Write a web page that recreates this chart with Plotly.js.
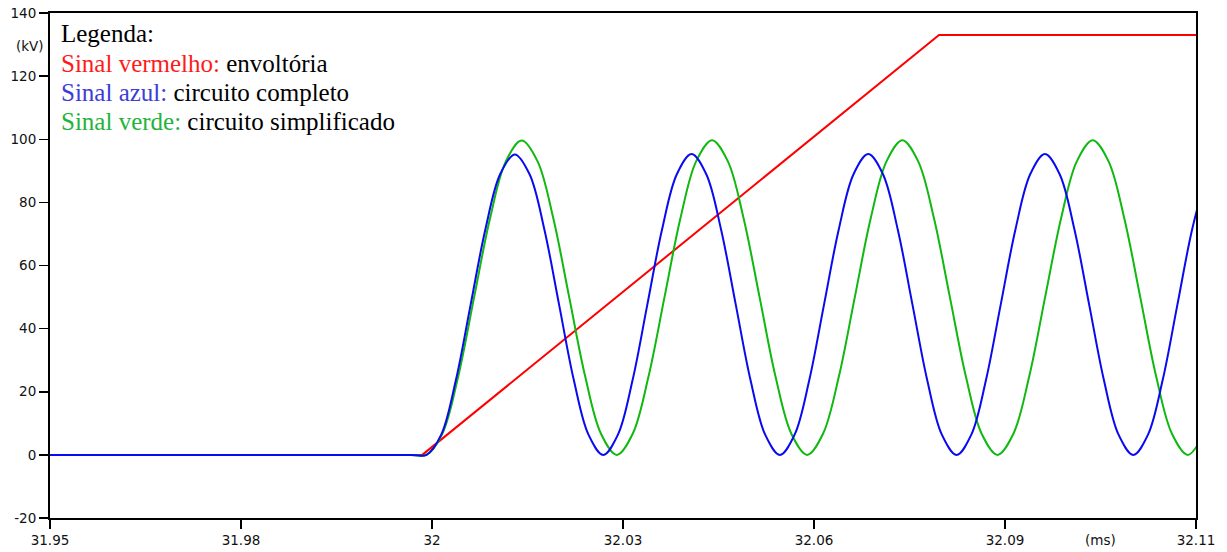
<!DOCTYPE html>
<html>
<head>
<meta charset="utf-8">
<script src="https://cdn.plot.ly/plotly-3.0.1.min.js"></script>
<style>html,body{margin:0;padding:0;background:#fff;}#chart{width:1227px;height:552px;}</style>
</head>
<body>
<div id="chart"></div>
<script>
// Red: envelope (kV vs ms)
const xRed = [31.95, 32.0036, 32.078, 32.115];
const yRed = [0, 0, 133, 133];

// Blue: full circuit
const xBlue = [31.95, 32.00209, 32.00421, 32.00633, 32.00845, 32.01057, 32.01269, 32.01481, 32.01693, 32.01905, 32.02117, 32.02329, 32.02541, 32.02753,
  32.02965, 32.03177, 32.03389, 32.03601, 32.03813, 32.04025, 32.04237, 32.04449, 32.04661, 32.04873, 32.05085, 32.05297,
  32.05509, 32.05721, 32.05933, 32.06145, 32.06357, 32.06569, 32.06781, 32.06993, 32.07205, 32.07417, 32.07629, 32.07841,
  32.08053, 32.08265, 32.08477, 32.08689, 32.08901, 32.09113, 32.09325, 32.09537, 32.09749, 32.09961, 32.10173, 32.10385,
  32.10597, 32.10809, 32.11021, 32.11233, 32.11445, 32.11657];
const yBlue = [0, 0, 0, 6.4, 23.8, 47.7, 71.5, 88.9, 95.2, 88.9, 71.5, 47.7, 23.8, 6.4,
  0, 6.4, 23.8, 47.7, 71.5, 88.9, 95.3, 88.9, 71.5, 47.7, 23.8, 6.4,
  0, 6.4, 23.8, 47.7, 71.5, 88.9, 95.3, 88.9, 71.5, 47.7, 23.8, 6.4,
  0, 6.4, 23.8, 47.7, 71.5, 88.9, 95.3, 88.9, 71.5, 47.7, 23.8, 6.4,
  0, 6.4, 23.8, 47.7, 71.5, 88.9];

// Green: simplified circuit
const xGreen = [31.95, 32.00193, 32.00421, 32.00649, 32.00878, 32.01106, 32.01334, 32.01563, 32.01791, 32.02020, 32.02248, 32.02476, 32.02705, 32.02933,
  32.03161, 32.03390, 32.03618, 32.03847, 32.04075, 32.04303, 32.04532, 32.04760, 32.04988, 32.05217, 32.05445, 32.05674,
  32.05902, 32.06130, 32.06359, 32.06587, 32.06815, 32.07044, 32.07272, 32.07500, 32.07729, 32.07957, 32.08186, 32.08414,
  32.08642, 32.08871, 32.09099, 32.09327, 32.09556, 32.09784, 32.10013, 32.10241, 32.10469, 32.10698, 32.10926, 32.11154,
  32.11383, 32.11611];
const yGreen = [0, 0, 0, 6.7, 24.9, 49.9, 74.8, 93.0, 99.6, 93.0, 74.8, 49.9, 24.9, 6.7,
  0, 6.7, 24.9, 49.9, 74.8, 93.0, 99.7, 93.0, 74.8, 49.9, 24.9, 6.7,
  0, 6.7, 24.9, 49.9, 74.8, 93.0, 99.7, 93.0, 74.8, 49.9, 24.9, 6.7,
  0, 6.7, 24.9, 49.9, 74.8, 93.0, 99.7, 93.0, 74.8, 49.9, 24.9, 6.7,
  0, 6.7];

const xTickVals = [31.95, 31.9775, 32.005, 32.0325, 32.06, 32.0875, 32.115];
const xTickText = ['31.95', '31.98', '32', '32.03', '32.06', '32.09', '32.11'];
const yTickVals = [-20, 0, 20, 40, 60, 80, 100, 120, 140];
const yTickText = ['-20', '0', '20', '40', '60', '80', '100', '120', '140'];

const legendLines = [
  {text: 'Legenda:', y: 0.9594},
  {text: '<span style="color:#ff1a1a">Sinal vermelho: </span>envoltória', y: 0.8992},
  {text: '<span style="color:#3c3cd8">Sinal azul: </span>circuito completo', y: 0.8418},
  {text: '<span style="color:#22b43a">Sinal verde: </span>circuito simplificado', y: 0.7843}
];

const traces = [
  {x: xRed, y: yRed, mode: 'lines', line: {color: '#ff0000', width: 2}, hoverinfo: 'skip'},
  {x: xGreen, y: yGreen, mode: 'lines', line: {color: '#10b810', width: 2, shape: 'spline', smoothing: 1}, hoverinfo: 'skip'},
  {x: xBlue, y: yBlue, mode: 'lines', line: {color: '#0a0af0', width: 2, shape: 'spline', smoothing: 1}, hoverinfo: 'skip'}
];

const tickFont = {family: 'DejaVu Sans, Verdana, sans-serif', size: 13.5, color: '#111'};

const annotations = legendLines.map(l => ({
  xref: 'paper', yref: 'paper', x: 0.0078, y: l.y, xanchor: 'left', yanchor: 'middle',
  text: l.text, showarrow: false,
  font: {family: 'Liberation Serif, Times New Roman, serif', size: 25, color: '#000'}
}));
annotations.push({xref: 'paper', yref: 'paper', x: -0.0175, y: 0.9347, xanchor: 'center', yanchor: 'middle',
  text: '(kV)', showarrow: false, font: tickFont});
annotations.push({xref: 'paper', yref: 'paper', x: 0.9171, y: -0.0443, xanchor: 'center', yanchor: 'middle',
  text: '(ms)', showarrow: false, font: tickFont});

const layout = {
  width: 1227, height: 552,
  margin: {l: 50, r: 31, t: 13, b: 34, pad: 0},
  paper_bgcolor: '#fff', plot_bgcolor: '#fff',
  showlegend: false,
  xaxis: {
    range: [31.95, 32.115], tickmode: 'array', tickvals: xTickVals, ticktext: xTickText,
    showgrid: false, zeroline: false, showline: true, mirror: true, linecolor: '#000', linewidth: 2,
    ticks: 'outside', ticklen: 9, tickwidth: 1.5, tickcolor: '#000', tickfont: tickFont
  },
  yaxis: {
    range: [-20, 140], tickmode: 'array', tickvals: yTickVals, ticktext: yTickText,
    showgrid: false, zeroline: false, showline: true, mirror: true, linecolor: '#000', linewidth: 2,
    ticks: 'outside', ticklen: 9, tickwidth: 1.5, tickcolor: '#000', tickfont: tickFont
  },
  annotations: annotations
};

Plotly.newPlot('chart', traces, layout, {staticPlot: true, displayModeBar: false});
</script>
</body>
</html>
